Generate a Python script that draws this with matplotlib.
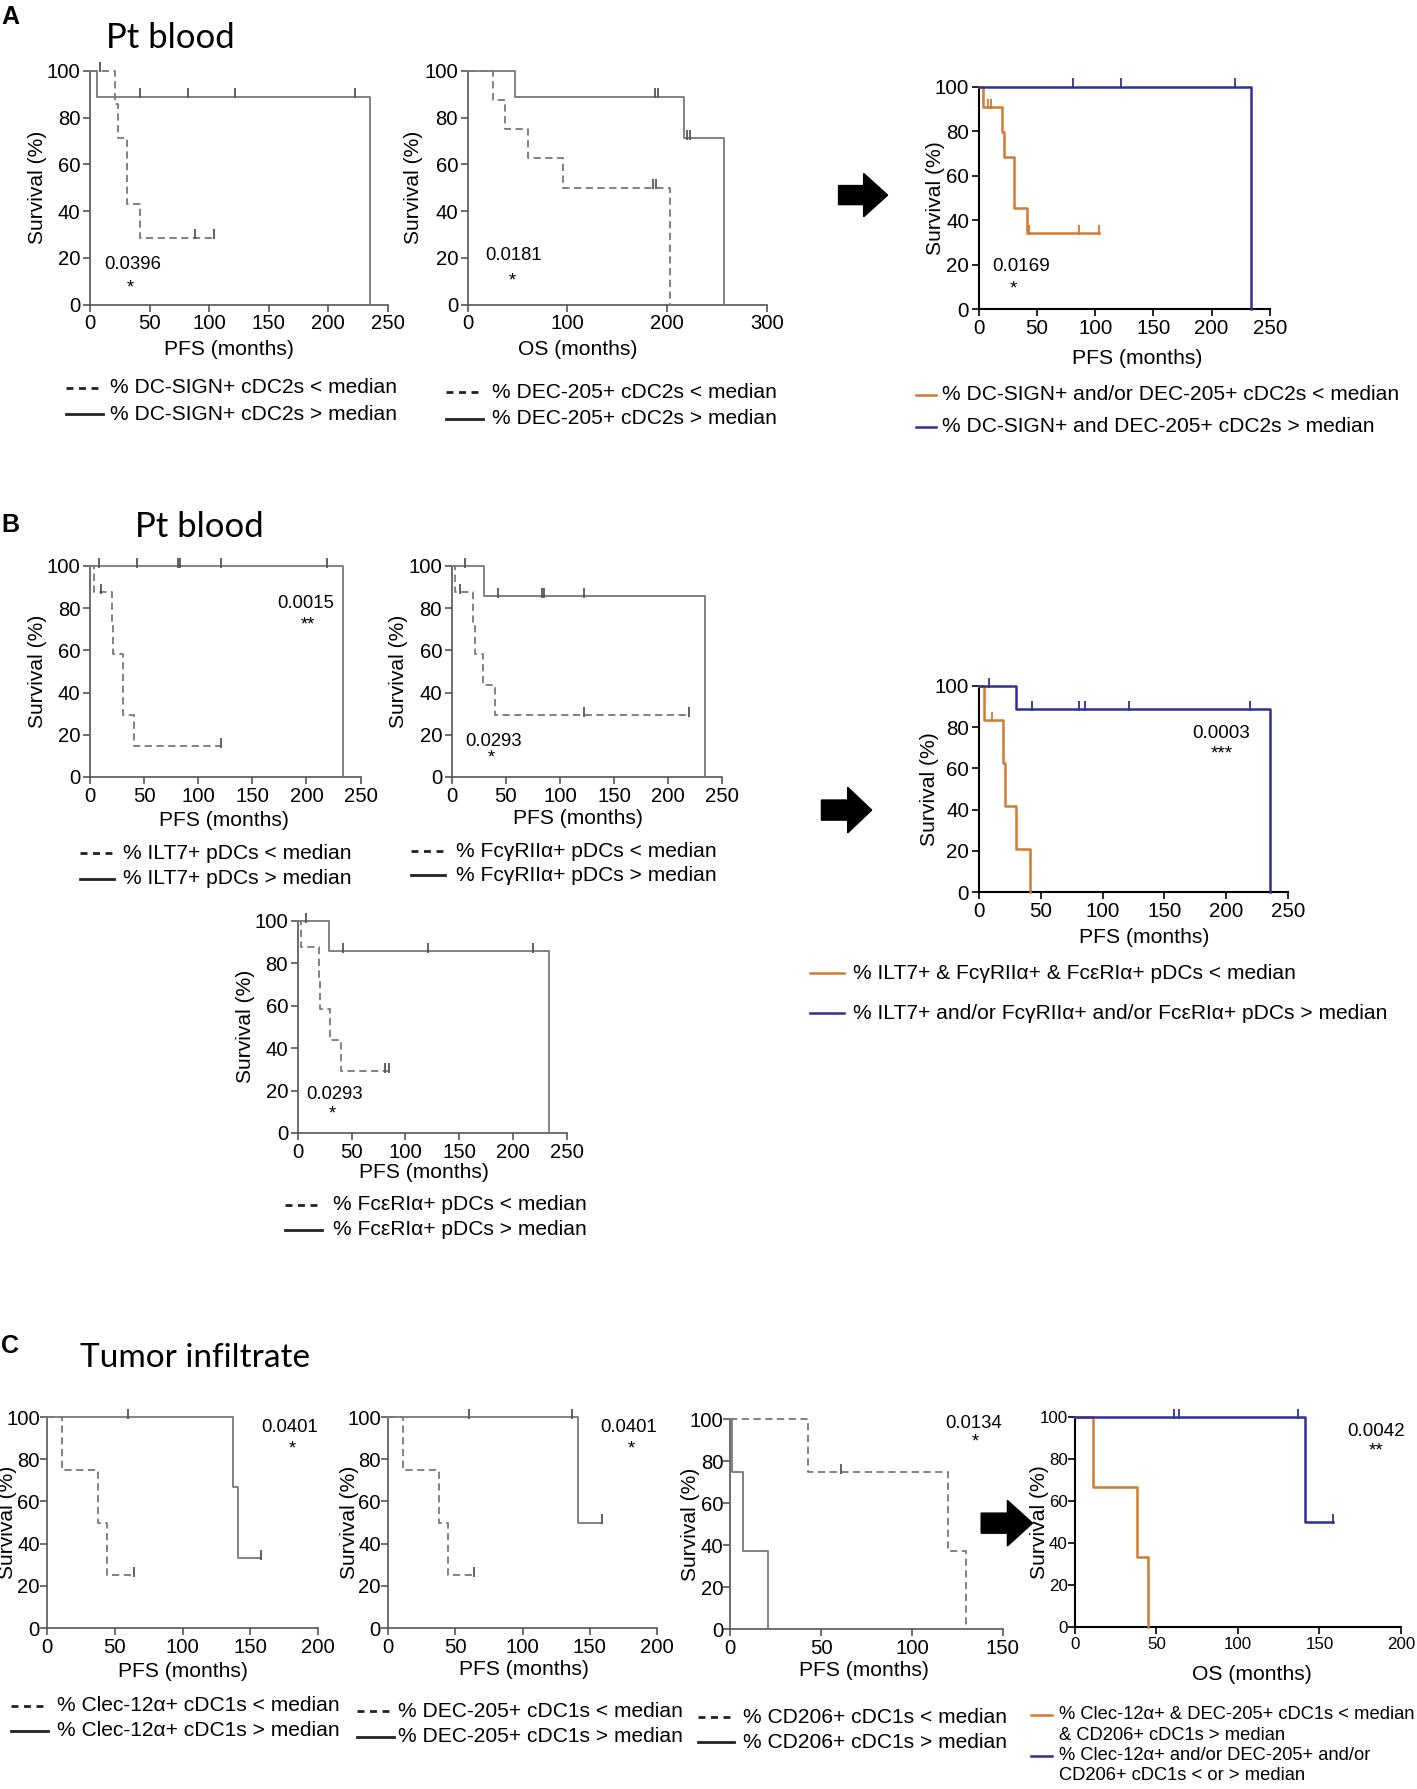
import numpy as np
import matplotlib
matplotlib.use('Agg')
import matplotlib.pyplot as plt
from matplotlib.lines import Line2D
from matplotlib.patches import Polygon
from matplotlib import font_manager as fm

# ------------------------------------------------------------------ data
# Panel A1 : DC-SIGN+ cDC2s (PFS)
a1_lo_t = [0, 21, 23, 31, 42, 104]
a1_lo_s = [100, 85.7, 71.4, 42.9, 28.6, 28.6]
a1_lo_c = [8, 88, 104]
a1_hi_t = [0, 6, 235, 235]
a1_hi_s = [100, 88.9, 88.9, 0]
a1_hi_c = [42, 82, 122, 222]
a1_p = "0.0396"; a1_star = "*"

# Panel A2 : DEC-205+ cDC2s (OS)
a2_lo_t = [0, 25, 37, 60, 96, 203, 203]
a2_lo_s = [100, 87.5, 75, 62.5, 50, 50, 0]
a2_lo_c = [186, 189]
a2_hi_t = [0, 47, 217, 257, 257]
a2_hi_s = [100, 88.9, 71.1, 71.1, 0]
a2_hi_c = [188, 191, 220, 223]
a2_p = "0.0181"; a2_star = "*"

# Panel A3 : combined
a3_lo_t = [0, 3.5, 20, 22, 30, 41, 103]
a3_lo_s = [100, 90.9, 79.5, 68.2, 45.5, 34.1, 34.1]
a3_lo_c = [7.5, 10, 43, 86, 103]
a3_hi_t = [0, 234, 234]
a3_hi_s = [100, 100, 0]
a3_hi_c = [81, 122, 220]
a3_p = "0.0169"; a3_star = "*"

# Panel B1 : ILT7+ pDCs
b1_lo_t = [0, 4, 20, 21.5, 30, 41, 121]
b1_lo_s = [100, 87.5, 72.9, 58.3, 29.2, 14.6, 14.6]
b1_lo_c = [10, 121]
b1_hi_t = [0, 234, 234]
b1_hi_s = [100, 100, 0]
b1_hi_c = [8, 43, 81, 83, 121, 219]
b1_p = "0.0015"; b1_star = "**"

# Panel B2 : FcγRIIα+ pDCs
b2_lo_t = [0, 3, 20, 21.5, 29, 40, 219]
b2_lo_s = [100, 87.5, 72.9, 58.3, 43.8, 29.2, 29.2]
b2_lo_c = [8, 122, 219]
b2_hi_t = [0, 30, 234, 234]
b2_hi_s = [100, 85.7, 85.7, 0]
b2_hi_c = [12, 43, 83, 85, 122]
b2_p = "0.0293"; b2_star = "*"

# Panel B3 : combined
b3_lo_t = [0, 4, 19.5, 21.5, 30, 41]
b3_lo_s = [100, 83.3, 62.5, 41.7, 20.8, 0]
b3_lo_c = [11]
b3_hi_t = [0, 30, 235, 235]
b3_hi_s = [100, 88.9, 88.9, 0]
b3_hi_c = [8, 43, 81, 86, 121, 219]
b3_p = "0.0003"; b3_star = "***"

# Panel B4 : FcεRIα+ pDCs
b4_lo_t = [0, 3.4, 19.3, 21, 30, 40.4, 85]
b4_lo_s = [100, 87.5, 72.9, 58.3, 43.8, 29.2, 29.2]
b4_lo_c = [81, 85]
b4_hi_t = [0, 29, 233, 233]
b4_hi_s = [100, 85.7, 85.7, 0]
b4_hi_c = [8, 42, 121, 218]
b4_p = "0.0293"; b4_star = "*"

# Panel C1 : Clec-12α+ cDC1s
c1_lo_t = [0, 11, 38, 44, 64]
c1_lo_s = [100, 75, 50, 25, 25]
c1_lo_c = [64]
c1_hi_t = [0, 137, 141, 158]
c1_hi_s = [100, 66.7, 33.3, 33.3]
c1_hi_c = [60, 158]
c1_p = "0.0401"; c1_star = "*"

# Panel C2 : DEC-205+ cDC1s
c2_lo_t = [0, 11, 38, 45, 64]
c2_lo_s = [100, 75, 50, 25, 25]
c2_lo_c = [64]
c2_hi_t = [0, 141, 159]
c2_hi_s = [100, 50, 50]
c2_hi_c = [60, 137, 159]
c2_p = "0.0401"; c2_star = "*"

# Panel C3 : CD206+ cDC1s
c3_lo_t = [0, 43, 120, 130]
c3_lo_s = [100, 75, 37.5, 0]
c3_lo_c = [61]
c3_hi_t = [0, 1, 7, 21]
c3_hi_s = [100, 75, 37.5, 0]
c3_hi_c = []
c3_p = "0.0134"; c3_star = "*"

# Panel C4 : combined (OS)
c4_lo_t = [0, 11, 38, 45]
c4_lo_s = [100, 66.7, 33.3, 0]
c4_lo_c = []
c4_hi_t = [0, 141, 158]
c4_hi_s = [100, 50, 50]
c4_hi_c = [61, 64, 137, 158]
c4_p = "0.0042"; c4_star = "**"

# legend texts
leg_a1 = ["% DC-SIGN+ cDC2s < median", "% DC-SIGN+ cDC2s > median"]
leg_a2 = ["% DEC-205+ cDC2s < median", "% DEC-205+ cDC2s > median"]
leg_a3 = ["% DC-SIGN+ and/or DEC-205+ cDC2s < median", "% DC-SIGN+ and DEC-205+ cDC2s > median"]
leg_b1 = ["% ILT7+ pDCs < median", "% ILT7+ pDCs > median"]
leg_b2 = ["% FcγRIIα+ pDCs < median", "% FcγRIIα+ pDCs > median"]
leg_b3 = ["% ILT7+ & FcγRIIα+ & FcεRIα+ pDCs < median",
          "% ILT7+ and/or FcγRIIα+ and/or FcεRIα+ pDCs > median"]
leg_b4 = ["% FcεRIα+ pDCs < median", "% FcεRIα+ pDCs > median"]
leg_c1 = ["% Clec-12α+ cDC1s < median", "% Clec-12α+ cDC1s > median"]
leg_c2 = ["% DEC-205+ cDC1s < median", "% DEC-205+ cDC1s > median"]
leg_c3 = ["% CD206+ cDC1s < median", "% CD206+ cDC1s > median"]
leg_c4 = ["% Clec-12α+ & DEC-205+ cDC1s < median", "& CD206+ cDC1s > median",
          "% Clec-12α+ and/or DEC-205+ and/or", "CD206+ cDC1s < or > median"]

# ------------------------------------------------------------------ fonts
names = {f.name for f in fm.fontManager.ttflist}
if 'Liberation Sans Narrow' in names:
    GFAM = ['Liberation Sans Narrow', 'DejaVu Sans']; k = 1.0
else:
    GFAM = ['Liberation Sans', 'DejaVu Sans']; k = 0.82
CFAM = ['Liberation Sans', 'DejaVu Sans']
TFAM = ['Lato', 'Open Sans', 'DejaVu Sans']

G = dict(tick=17.8 * k, label=18.5 * k, leg=18.5 * k, p=16.3 * k)
C = dict(tick=14.8, label=15.2, leg=15.1, p=13.6)

GRAY = '#777777'
SPG = '#555555'
ORANGE = '#d27a30'
BLUE = '#2e3192'

W, H = 1242.0, 1568.0
fig = plt.figure(figsize=(14.17, 17.89), dpi=100)


def fx(x):
    return x / W


def fy(y):
    return 1 - y / H


def level(t, s, c):
    i = np.searchsorted(np.asarray(t), c, side='right') - 1
    return s[max(i, 0)]


def panel(x0, x1, y100, y0, xmax, xstep, colored, curves, p, star, pxy, sxy,
          xlabel, xlab_x, xlab_y, ylab_x, ypad=2, tsize=None):
    ax = fig.add_axes([fx(x0), fy(y0), fx(x1) - fx(x0), fy(y100) - fy(y0)])
    ax.set_xlim(0, xmax)
    ax.set_ylim(0, 100)
    st = C if colored else G
    fam = CFAM if colored else GFAM
    ts = tsize if tsize is not None else st['tick']
    spc = 'black' if colored else SPG
    for sp in ['top', 'right']:
        ax.spines[sp].set_visible(False)
    for sp in ['left', 'bottom']:
        ax.spines[sp].set_color(spc)
        ax.spines[sp].set_linewidth(1.5 if colored else 1.2)
    xt = list(range(0, xmax + 1, xstep))
    yt = list(range(0, 101, 20))
    ax.set_xticks(xt, [str(v) for v in xt], fontsize=ts, family=fam)
    ax.set_yticks(yt, [str(v) for v in yt], fontsize=ts, family=fam)
    ax.tick_params(direction='out', length=5, width=1.2, colors=spc,
                   labelcolor='black', pad=2)
    ax.tick_params(axis='y', pad=ypad)
    ax.patch.set_alpha(0)
    for (t, s, cens, col, ls) in curves:
        lw = 1.8 if colored else 1.3
        ax.plot(t, s, drawstyle='steps-post', color=col, ls=ls, lw=lw,
                clip_on=False, zorder=3)
        if len(cens):
            lv = [level(t, s, c) for c in cens]
            ax.plot(cens, [v + 1.5 for v in lv], ls='none', marker='|',
                    ms=7, mew=1.3, color=col if colored else '#555555',
                    clip_on=False, zorder=4)
    ax.text(pxy[0], pxy[1], p, ha='center', va='center', fontsize=st['p'], family=fam)
    ax.text(sxy[0], sxy[1], star, ha='center', va='center', fontsize=st['p'], family=fam)
    fig.text(fx(xlab_x), fy(xlab_y), xlabel, ha='center', va='center',
             fontsize=st['label'], family=fam)
    fig.text(fx(ylab_x), fy((y0 + y100) / 2), "Survival (%)", rotation=90,
             ha='center', va='center', fontsize=st['label'], family=fam)
    return ax


def legend(xs0, xs1, xt, ys, styles, texts, colored, size=None):
    st = C if colored else G
    fam = CFAM if colored else GFAM
    fs = size if size is not None else st['leg']
    for y, sty, txt in zip(ys, styles, texts):
        if sty is not None:
            col, ls = sty
            fig.add_artist(Line2D([fx(xs0), fx(xs1)], [fy(y), fy(y)],
                                  transform=fig.transFigure, color=col, ls=ls,
                                  lw=2.0 if not colored else 1.8))
        fig.text(fx(xt), fy(y), txt, ha='left', va='center',
                 fontsize=fs, family=fam)


def arrow(x0, xm, x1, yt, yb):
    yc = (yt + yb) / 2
    h = (yb - yt)
    bt, bb = yc - h * 0.22, yc + h * 0.22
    pts = [(x0, bt), (xm, bt), (xm, yt), (x1, yc), (xm, yb), (xm, bb), (x0, bb)]
    fig.add_artist(Polygon([(fx(a), fy(b)) for a, b in pts], closed=True,
                           transform=fig.transFigure, color='black'))


DASH = (0, (4, 2.5))
LDASH = ('#222222', (0, (2.5, 2)))
LSOL = ('#222222', '-')

# ------------------------------------------------------------------ panel A
fig.text(fx(1), fy(15), "A", fontsize=18, fontweight='bold', family=CFAM, va='center')
fig.text(fx(93), fy(33), "Pt blood", fontsize=25, family=TFAM, va='center')

panel(79, 340, 62, 267, 250, 50, False,
      [(a1_lo_t, a1_lo_s, a1_lo_c, GRAY, DASH), (a1_hi_t, a1_hi_s, a1_hi_c, GRAY, '-')],
      a1_p, a1_star, (36, 17), (34, 7), "PFS (months)", 201, 306, 33)
legend(58, 90, 96, [340, 363], [LDASH, LSOL], leg_a1, False)

panel(410, 672, 62, 267, 300, 100, False,
      [(a2_lo_t, a2_lo_s, a2_lo_c, GRAY, DASH), (a2_hi_t, a2_hi_s, a2_hi_c, GRAY, '-')],
      a2_p, a2_star, (46, 21), (45, 10), "OS (months)", 506, 306, 362)
legend(391, 423, 431, [344, 367], [LDASH, LSOL], leg_a2, False)

panel(858, 1113, 76, 271, 250, 50, True,
      [(a3_lo_t, a3_lo_s, a3_lo_c, ORANGE, '-'), (a3_hi_t, a3_hi_s, a3_hi_c, BLUE, '-')],
      a3_p, a3_star, (36, 19), (30, 9), "PFS (months)", 997, 314, 820)
legend(803, 820, 826, [346, 374], [(ORANGE, '-'), (BLUE, '-')], leg_a3, True)
arrow(735, 757, 778, 152, 190)

# ------------------------------------------------------------------ panel B
fig.text(fx(1), fy(460), "B", fontsize=18, fontweight='bold', family=CFAM, va='center')
fig.text(fx(118), fy(462), "Pt blood", fontsize=25, family=TFAM, va='center')

panel(79, 316, 496, 681, 250, 50, False,
      [(b1_lo_t, b1_lo_s, b1_lo_c, GRAY, DASH), (b1_hi_t, b1_hi_s, b1_hi_c, GRAY, '-')],
      b1_p, b1_star, (199, 82), (201, 72), "PFS (months)", 196, 719, 33)
legend(70, 100, 108, [748, 770], [LDASH, LSOL], leg_b1, False)

panel(396, 633, 496, 681, 250, 50, False,
      [(b2_lo_t, b2_lo_s, b2_lo_c, GRAY, DASH), (b2_hi_t, b2_hi_s, b2_hi_c, GRAY, '-')],
      b2_p, b2_star, (39, 17), (37, 9), "PFS (months)", 507, 717, 349)
legend(360, 390, 400, [746, 767], [LDASH, LSOL], leg_b2, False)

panel(858, 1129, 601, 782, 250, 50, True,
      [(b3_lo_t, b3_lo_s, b3_lo_c, ORANGE, '-'), (b3_hi_t, b3_hi_s, b3_hi_c, BLUE, '-')],
      b3_p, b3_star, (196, 77), (196, 67), "PFS (months)", 1003, 822, 815)
legend(710, 740, 748, [853, 888], [(ORANGE, '-'), (BLUE, '-')], leg_b3, True)
arrow(720, 743, 764, 690, 730)

panel(261, 497, 807, 993, 250, 50, False,
      [(b4_lo_t, b4_lo_s, b4_lo_c, GRAY, DASH), (b4_hi_t, b4_hi_s, b4_hi_c, GRAY, '-')],
      b4_p, b4_star, (34, 18), (32, 9), "PFS (months)", 372, 1028, 215)
legend(250, 282, 292, [1056, 1078], [LDASH, LSOL], leg_b4, False)

# ------------------------------------------------------------------ panel C
fig.text(fx(1), fy(1180), "C", fontsize=18, fontweight='bold', family=CFAM, va='center')
fig.text(fx(70), fy(1190), "Tumor infiltrate", fontsize=24, family=TFAM, va='center')

panel(41, 279, 1242, 1427, 200, 50, False,
      [(c1_lo_t, c1_lo_s, c1_lo_c, GRAY, DASH), (c1_hi_t, c1_hi_s, c1_hi_c, GRAY, '-')],
      c1_p, c1_star, (179, 95), (181, 85), "PFS (months)", 160, 1465, 7, ypad=0)
legend(10, 42, 50, [1495, 1517], [LDASH, LSOL], leg_c1, False)

panel(340, 576, 1242, 1427, 200, 50, False,
      [(c2_lo_t, c2_lo_s, c2_lo_c, GRAY, DASH), (c2_hi_t, c2_hi_s, c2_hi_c, GRAY, '-')],
      c2_p, c2_star, (179, 95), (181, 85), "PFS (months)", 459, 1463, 306, ypad=0)
legend(313, 345, 349, [1500, 1522], [LDASH, LSOL], leg_c2, False)

panel(640, 879, 1244, 1428, 150, 50, False,
      [(c3_lo_t, c3_lo_s, c3_lo_c, GRAY, DASH), (c3_hi_t, c3_hi_s, c3_hi_c, GRAY, '-')],
      c3_p, c3_star, (134, 98), (135, 89), "PFS (months)", 757, 1464, 605, ypad=0)
legend(612, 643, 651, [1505, 1527], [LDASH, LSOL], leg_c3, False)

panel(942, 1228, 1242, 1426, 200, 50, True,
      [(c4_lo_t, c4_lo_s, c4_lo_c, ORANGE, '-'), (c4_hi_t, c4_hi_s, c4_hi_c, BLUE, '-')],
      c4_p, c4_star, (185, 93), (185, 84), "OS (months)", 1097, 1468, 911,
      ypad=0, tsize=12.2)
legend(904, 922, 928, [1503, 1521, 1539, 1556],
       [(ORANGE, '-'), None, (BLUE, '-'), None], leg_c4, True, size=13.2)
arrow(860, 883, 905, 1315, 1355)

fig.savefig('out.png', dpi=100)
